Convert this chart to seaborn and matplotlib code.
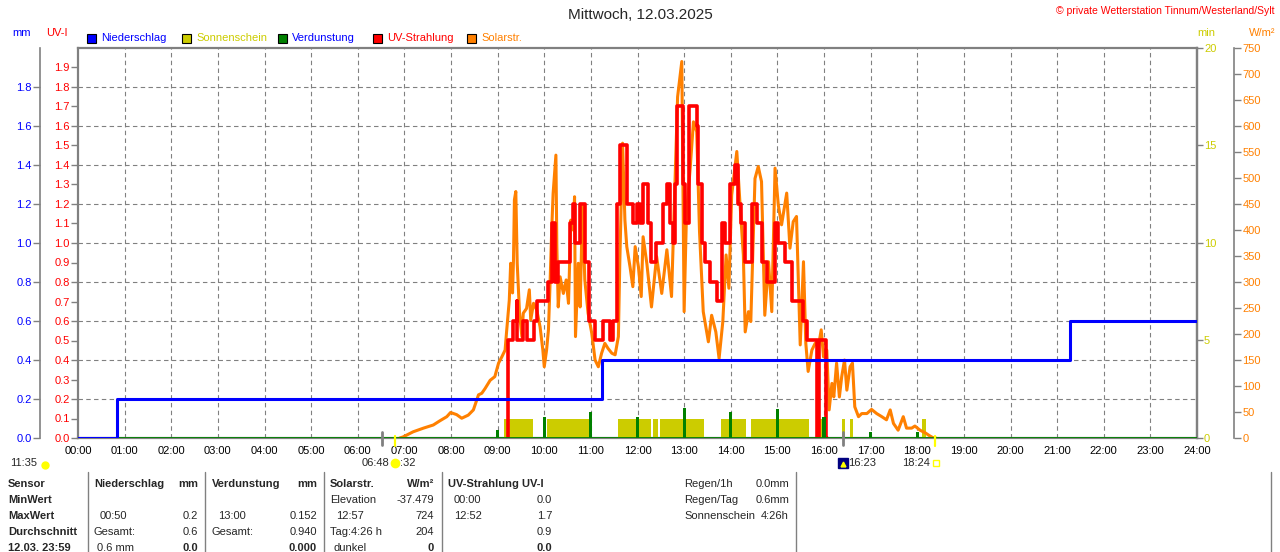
import matplotlib
matplotlib.use("Agg")
import matplotlib.pyplot as plt
from matplotlib.patches import Rectangle
from matplotlib.lines import Line2D
import pandas as pd
import seaborn as sns

# --- data (time in hours) ---
rain_t = [0.0, 0.83, 11.24, 21.28, 24.0]
rain_mm = [0.0, 0.2, 0.4, 0.6, 0.6]

evap_t = [9, 10, 11, 12, 13, 14, 15, 16, 17, 18]
evap_mm = [0.04, 0.11, 0.135, 0.11, 0.152, 0.135, 0.15, 0.11, 0.03, 0.03]

sun_start = [9.137, 10.053, 11.589, 12.339, 12.483, 13.791, 14.435, 15.893, 16.393, 16.557, 18.109]
sun_end = [9.752, 10.953, 12.283, 12.433, 13.427, 14.321, 15.672, 15.964, 16.457, 16.629, 18.181]
sun_min = [1, 1, 1, 1, 1, 1, 1, 1, 1, 1, 1]

solar_t = [6.90, 6.97, 7.19, 7.41, 7.62, 7.76, 7.91, 7.99, 8.12, 8.23, 8.37, 8.48, 8.59,
           8.66, 8.73, 8.84, 8.94, 9.02, 9.09, 9.16, 9.19, 9.25, 9.28, 9.32, 9.34, 9.36, 9.39,
           9.42, 9.47, 9.52, 9.55, 9.62, 9.68, 9.71, 9.77, 9.84, 9.91, 9.97, 10.00, 10.05,
           10.09, 10.12, 10.16, 10.19, 10.25, 10.27, 10.30, 10.34, 10.41, 10.47, 10.52, 10.57,
           10.62, 10.65, 10.67, 10.73, 10.77, 10.82, 10.87, 10.94, 11.02, 11.09, 11.16, 11.23,
           11.30, 11.37, 11.45, 11.52, 11.59, 11.62, 11.68, 11.73, 11.77, 11.84, 11.90, 11.95,
           12.02, 12.08, 12.12, 12.20, 12.30, 12.41, 12.52, 12.63, 12.73, 12.80, 12.86, 12.95,
           13.00, 13.05, 13.13, 13.20, 13.27, 13.33, 13.41, 13.52, 13.59, 13.68, 13.75, 13.83,
           13.90, 13.96, 14.02, 14.13, 14.20, 14.27, 14.31, 14.38, 14.43, 14.52, 14.59, 14.66,
           14.73, 14.81, 14.88, 14.95, 15.02, 15.09, 15.20, 15.27, 15.34, 15.41, 15.49, 15.56,
           15.61, 15.66, 15.74, 15.81, 15.88, 15.94, 15.99, 16.06, 16.11, 16.17, 16.21, 16.27,
           16.33, 16.38, 16.44, 16.49, 16.56, 16.61, 16.66, 16.74, 16.81, 16.92, 17.02, 17.13,
           17.24, 17.34, 17.42, 17.49, 17.59, 17.70, 17.77, 17.88, 17.95, 18.06, 18.17, 18.27,
           18.33, 18.40]
solar_w = [0, 2, 12, 19, 25, 33, 41, 49, 45, 38, 44, 54, 83,
           86, 95, 111, 118, 144, 156, 169, 202, 265, 336, 279, 342, 458, 474,
           336, 240, 195, 240, 249, 285, 227, 259, 246, 214, 169, 137, 169,
           208, 285, 400, 470, 544, 368, 252, 310, 278, 304, 259, 419,
           400, 464, 195, 336, 252, 445, 304, 240, 201, 150, 137, 163,
           182, 172, 163, 160, 195, 336, 567, 419, 368, 329, 291, 368,
           329, 272, 387, 336, 252, 349, 278, 362, 272, 477, 656, 724,
           243, 429, 519, 608, 589, 397, 243, 185, 236, 204, 153, 224,
           352, 288, 467, 551, 448, 352, 204, 243, 224, 499, 522, 493,
           236, 339, 243, 519, 448, 410, 471, 365, 416, 426, 179, 339,
           182, 128, 169, 182, 176, 208, 156, 169, 54, 105, 79, 144,
           79, 118, 150, 92, 137, 144, 60, 41, 47, 47, 55, 47,
           41, 35, 54, 28, 15, 41, 19, 19, 23, 15, 10, 4,
           1, 0]

uv_t = [9.22, 9.23, 9.32, 9.41, 9.42, 9.55, 9.62, 9.77, 9.84, 10.09, 10.16, 10.23, 10.30,
        10.55, 10.62, 10.66, 10.77, 10.87, 10.97, 11.09, 11.27, 11.41, 11.48, 11.55, 11.62,
        11.77, 11.91, 11.98, 12.05, 12.12, 12.23, 12.30, 12.40, 12.55, 12.63, 12.70, 12.77,
        12.80, 12.84, 12.97, 13.02, 13.11, 13.27, 13.30, 13.38, 13.45, 13.56, 13.70, 13.81,
        13.88, 13.98, 14.09, 14.16, 14.23, 14.31, 14.45, 14.56, 14.66, 14.77, 14.95, 15.02,
        15.16, 15.31, 15.56, 15.63, 15.84, 15.89, 16.05, 16.06]
uv_i = [0.0, 0.5, 0.6, 0.7, 0.5, 0.6, 0.5, 0.6, 0.7, 0.8, 1.1, 0.8, 0.9,
        1.1, 1.2, 1.0, 1.2, 0.9, 0.6, 0.5, 0.6, 0.5, 0.6, 1.2, 1.5,
        1.2, 1.1, 1.2, 1.1, 1.3, 1.1, 0.9, 1.0, 1.2, 1.3, 1.1, 1.0,
        1.3, 1.7, 1.3, 1.1, 1.7, 1.6, 1.3, 1.0, 0.9, 0.8, 0.7, 1.1,
        1.0, 1.3, 1.4, 1.2, 1.1, 0.9, 1.2, 1.1, 0.9, 0.8, 1.1, 1.0,
        0.9, 0.7, 0.6, 0.5, 0.0, 0.5, 0.0, 0.0]

hour_labels = [f"{h:02d}:00" for h in range(25)]
uv_ticks = [i / 10 for i in range(20)]
mm_ticks = [i / 5 for i in range(10)]
min_ticks = [0, 5, 10, 15, 20]
w_ticks = list(range(0, 751, 50))

BLUE, YELLOW, GREEN, RED, ORANGE, GRAY = "#0000ff", "#cccc00", "#008000", "#ff0000", "#ff8000", "#808080"
FS = 8

sns.set_style("white")
plt.rcParams["font.family"] = ["Liberation Sans", "DejaVu Sans"]

W, H = 1280, 552
def fx(px): return px / W
def fy(py): return 1 - py / H

fig = plt.figure(figsize=(12.8, 5.52), dpi=100)
ax = fig.add_axes([fx(78), fy(438), (1197 - 78) / W, (438 - 48) / H])
ax.set_xlim(0, 24)
ax.set_ylim(0, 2)

# grid
ax.hlines([t for t in mm_ticks if 0 < t < 2], 0, 24, colors=GRAY, lw=0.8, linestyles=(0, (4, 3)))
ax.vlines(range(1, 24), 0, 2, colors=GRAY, lw=0.8, linestyles=(0, (4, 3)))

ax.set_xticks(range(25))
ax.set_xticklabels(hour_labels)
ax.set_yticks(uv_ticks)
ax.set_yticklabels([f"{v:.1f}" for v in uv_ticks])
ax.tick_params(axis="y", colors=GRAY, labelcolor=RED, labelsize=FS, length=5, width=1, pad=1)
ax.tick_params(axis="x", colors=GRAY, labelcolor="black", labelsize=FS, length=3, width=1, pad=3)
for s in ax.spines.values():
    s.set_color(GRAY)
    s.set_linewidth(1.6)

# sunshine minutes
ax_min = ax.twinx()
ax_min.set_ylim(0, 20)
ax_min.bar(sun_start, sun_min, width=[e - s for s, e in zip(sun_start, sun_end)],
           align="edge", color=YELLOW, linewidth=0)
ax_min.set_yticks(min_ticks)
ax_min.tick_params(axis="y", colors=GRAY, labelcolor=YELLOW, labelsize=FS, length=4, width=1, pad=1)
for k, s in ax_min.spines.items():
    s.set_visible(k == "right")
    s.set_color(GRAY)
    s.set_linewidth(1.6)

# solar radiation
ax_w = ax.twinx()
ax_w.set_ylim(0, 750)
solar = pd.DataFrame({"t": solar_t, "w": solar_w})
sns.lineplot(data=solar, x="t", y="w", ax=ax_w, color=ORANGE, lw=2.2, estimator=None)
ax_w.set_yticks(w_ticks)
ax_w.tick_params(axis="y", colors=GRAY, labelcolor=ORANGE, labelsize=FS, length=5, width=1, pad=1)
for k, s in ax_w.spines.items():
    s.set_visible(k == "right")
    s.set_color(GRAY)
    s.set_linewidth(1.2)
ax_w.spines["right"].set_position(("axes", (1234 - 78) / 1119))

# UV index
ax_uv = ax.twinx()
ax_uv.set_ylim(0, 2)
uv = pd.DataFrame({"t": uv_t, "uv": uv_i})
sns.lineplot(data=uv, x="t", y="uv", ax=ax_uv, color=RED, lw=2.6, estimator=None, drawstyle="steps-post")
ax_uv.set_yticks([])
for s in ax_uv.spines.values():
    s.set_visible(False)

# rain + evaporation (mm)
ax_mm = ax.twinx()
ax_mm.set_ylim(0, 2)
ax_mm.axhline(0, color=GREEN, lw=2)
ax_mm.bar(evap_t, evap_mm, width=0.065, color=GREEN, linewidth=0)
rain = pd.DataFrame({"t": rain_t, "mm": rain_mm})
sns.lineplot(data=rain, x="t", y="mm", ax=ax_mm, color=BLUE, lw=2.2, estimator=None, drawstyle="steps-post")
ax_mm.yaxis.set_ticks_position("left")
ax_mm.set_yticks(mm_ticks)
ax_mm.set_yticklabels([f"{v:.1f}" for v in mm_ticks])
ax_mm.tick_params(axis="y", colors=GRAY, labelcolor=BLUE, labelsize=FS, length=5, width=1, pad=1)
for k, s in ax_mm.spines.items():
    s.set_visible(k == "left")
    s.set_color(GRAY)
    s.set_linewidth(1.2)
ax_mm.spines["left"].set_position(("axes", (40 - 78) / 1119))

for a in (ax, ax_min, ax_w, ax_uv, ax_mm):
    a.set_xlabel("")
    a.set_ylabel("")
ax_mm.set_xlim(0, 24)

# titles and units
fig.text(fx(640), fy(15), "Mittwoch, 12.03.2025", ha="center", va="center", fontsize=11)
fig.text(fx(1275), fy(11), "\u00a9 private Wetterstation Tinnum/Westerland/Sylt", ha="right", va="center",
         fontsize=7.5, color=RED)
fig.text(fx(22), fy(33), "mm", ha="center", va="center", fontsize=FS, color=BLUE)
fig.text(fx(57), fy(33), "UV-I", ha="center", va="center", fontsize=FS, color=RED)
fig.text(fx(1206), fy(33), "min", ha="center", va="center", fontsize=FS, color=YELLOW)
fig.text(fx(1262), fy(33), "W/m\u00b2", ha="center", va="center", fontsize=FS, color=ORANGE)

# legend
legend_items = [(87, "Niederschlag", BLUE, BLUE), (182, "Sonnenschein", YELLOW, YELLOW),
                (278, "Verdunstung", GREEN, BLUE), (373, "UV-Strahlung", RED, RED),
                (467, "Solarstr.", ORANGE, ORANGE)]
for x0, lab, face, tcol in legend_items:
    fig.patches.append(Rectangle((fx(x0), fy(43)), 9 / W, 9 / H, transform=fig.transFigure,
                                 facecolor=face, edgecolor="black", lw=0.8))
    fig.text(fx(x0 + 14), fy(38), lab, ha="left", va="center", fontsize=FS, color=tcol)

# sun / moon markers below the axis
def fline(x, y0, y1, c, lw):
    fig.lines.append(Line2D([fx(x), fx(x)], [fy(y0), fy(y1)], transform=fig.transFigure, color=c, lw=lw))

def fmark(x, y, m, c, ms, **kw):
    fig.lines.append(Line2D([fx(x)], [fy(y)], transform=fig.transFigure, marker=m, color=c,
                            markersize=ms, linestyle="none", **kw))

fline(382, 432, 445, GRAY, 2)
fline(395, 436, 446, "#ffff00", 1.6)
fline(843, 432, 445, GRAY, 2)
fline(935, 436, 446, "#ffff00", 1.6)
fig.text(fx(10), fy(463), "11:35", ha="left", va="center", fontsize=FS)
fmark(45, 465, "o", "#ffff00", 5)
fig.text(fx(389), fy(463), "06:48", ha="right", va="center", fontsize=FS)
fmark(395, 463, "o", "#ffff00", 6)
fig.text(fx(400), fy(463), ":32", ha="left", va="center", fontsize=FS)
fmark(843, 463, "s", "#000080", 7)
fmark(843, 464, "^", "#ffff00", 3.5)
fig.text(fx(848), fy(463), "16:23", ha="left", va="center", fontsize=FS)
fig.text(fx(930), fy(463), "18:24", ha="right", va="center", fontsize=FS)
fmark(936, 463, "s", "#ffff00", 5, fillstyle="none", markeredgewidth=1)

# summary table
for xl in (88, 205, 324, 442, 796, 1271):
    fline(xl, 472, 552, GRAY, 1)

rows_y = [484, 500, 516, 532, 548]
for y, s in zip(rows_y, ["Sensor", "MinWert", "MaxWert", "Durchschnitt", "12.03. 23:59"]):
    fig.text(fx(8), fy(y), s, ha="left", va="center", fontsize=FS, fontweight="bold")

table_cells = [
    (94, 198, ["Niederschlag", "", "00:50", "Gesamt:", "0.6 mm"], ["mm", "", "0.2", "0.6", "0.0"]),
    (212, 317, ["Verdunstung", "", "13:00", "Gesamt:", ""], ["mm", "", "0.152", "0.940", "0.000"]),
    (330, 434, ["Solarstr.", "Elevation", "12:57", "Tag:4:26 h", "dunkel"], ["W/m\u00b2", "-37.479", "724", "204", "0"]),
    (448, 552, ["UV-Strahlung UV-I", "00:00", "12:52", "", ""], ["", "0.0", "1.7", "0.9", "0.0"]),
]
for xl, xr, lefts, rights in table_cells:
    for i, (y, ls, rs) in enumerate(zip(rows_y, lefts, rights)):
        bold = i == 0 or i == 4
        lbold = i == 0
        indent = 6 if (i in (1, 2) and ls[:1].isdigit()) else (3 if i == 4 else 0)
        if ls:
            fig.text(fx(xl + indent), fy(y), ls, ha="left", va="center", fontsize=FS,
                     fontweight="bold" if lbold else "normal")
        if rs:
            fig.text(fx(xr), fy(y), rs, ha="right", va="center", fontsize=FS,
                     fontweight="bold" if bold else "normal")

for y, l, r in zip(rows_y, ["Regen/1h", "Regen/Tag", "Sonnenschein"], ["0.0mm", "0.6mm", "4:26h"]):
    fig.text(fx(684), fy(y), l, ha="left", va="center", fontsize=FS)
    fig.text(fx(789), fy(y), r, ha="right", va="center", fontsize=FS)

fig.savefig("out.png", dpi=100)
